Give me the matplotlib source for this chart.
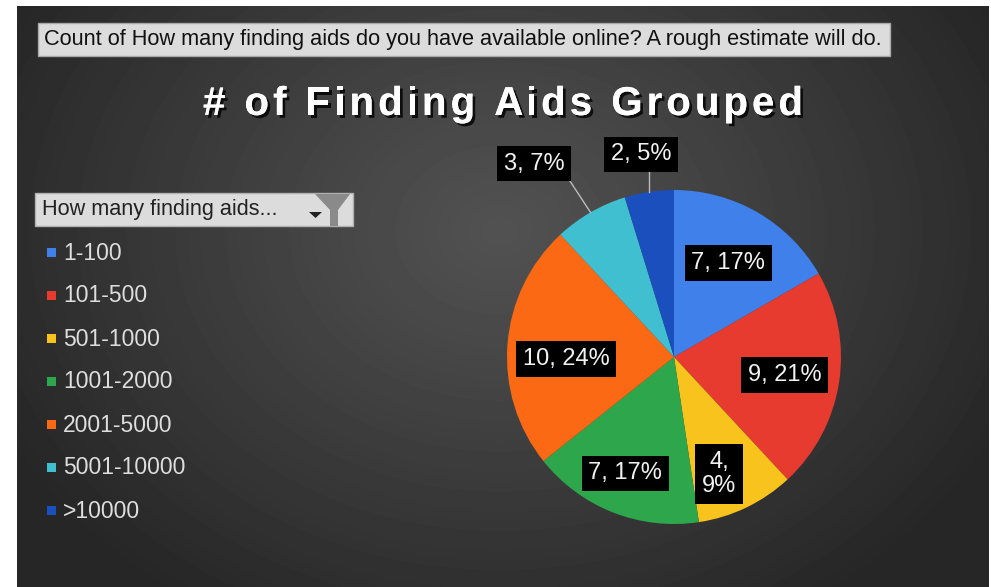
import numpy as np
import matplotlib
matplotlib.use("Agg")
import matplotlib.pyplot as plt
from matplotlib.patches import Rectangle, Polygon
import matplotlib.patheffects as pe

# ---------------- data ----------------
categories = ["1-100", "101-500", "501-1000", "1001-2000", "2001-5000", "5001-10000", ">10000"]
counts = [7, 9, 4, 7, 10, 3, 2]
pct_labels = [17, 21, 9, 17, 24, 7, 5]
colors = ["#3f80ea", "#e63b2e", "#f7c31c", "#2ea64b", "#fb6914", "#40bfd0", "#1c4fbe"]
title = "# of Finding Aids Grouped"
header = "Count of How many finding aids do you have available online? A rough estimate will do."
legend_title = "How many finding aids..."

# label placement per slice: fraction of radius and angular nudge (degrees)
label_dist = [0.65, 0.67, 0.75, 0.755, 0.645, 1.43, 1.23]
label_shift = [0, -0.7, -4.7, -1.3, 5.3, 5.9, 0.7]

W, H = 991, 587
fig = plt.figure(figsize=(W / 100, H / 100), dpi=100)
fig.patch.set_facecolor("white")
bg = fig.add_axes([0, 0, 1, 1])
bg.axis("off")

# dark radial gradient background
x0, x1, y0, y1 = 17, 989, 6, 587
yy, xx = np.mgrid[y0:y1, x0:x1]
d = np.sqrt(((xx - 500) / 560.0) ** 2 + ((yy - 230) / 450.0) ** 2)
v = 0.32 - 0.17 * np.clip(d, 0, 1) ** 1.1
bg.imshow(v, cmap="gray", vmin=0, vmax=1, extent=(x0, x1, y1, y0),
          aspect="auto", interpolation="bilinear", zorder=0)
bg.set_xlim(0, W)
bg.set_ylim(H, 0)

renderer = fig.canvas.get_renderer()


def fit_size(s, target_w, **kw):
    t = bg.text(0, 0, s, fontsize=10, **kw)
    w = t.get_window_extent(renderer).width
    t.remove()
    return 10 * target_w / w


# header box
bg.add_patch(Rectangle((38, 23), 852, 33, facecolor="#dcdcdc", edgecolor="#a8a8a8", lw=1, zorder=2))
hs = fit_size(header, 843, family="Liberation Sans")
bg.text(44, 40, header, fontsize=hs, family="Liberation Sans", color="#111111",
        va="center", ha="left", zorder=3)

# title with letter spacing and shadow
tprops = dict(fontsize=29, family="Liberation Sans", fontweight="bold", color="white")


def text_w(s):
    t = bg.text(0, 0, s + "|", **tprops)
    w = t.get_window_extent(renderer).width
    t.remove()
    t = bg.text(0, 0, "|", **tprops)
    w0 = t.get_window_extent(renderer).width
    t.remove()
    return w - w0


total_plain = text_w(title)
target = 600
spacing = (target - total_plain) / (len(title) - 1)
xs = 203
for i, ch in enumerate(title):
    if ch == " ":
        continue
    xpos = xs + text_w(title[:i]) + i * spacing
    bg.text(xpos, 104, ch, ha="left", va="center", zorder=4,
            path_effects=[pe.withSimplePatchShadow(offset=(2, -2), shadow_rgbFace="black", alpha=0.8),
                          pe.Normal()], **tprops)

# legend header
bg.add_patch(Rectangle((35, 193), 318, 33, facecolor="#dcdcdc", edgecolor="#b0b0b0", lw=1, zorder=2))
ls = fit_size(legend_title, 236, family="Liberation Sans")
bg.text(42, 210, legend_title, fontsize=ls, family="Liberation Sans", color="#222222",
        va="center", ha="left", zorder=3)
# filter icon
bg.add_patch(Polygon([(315, 194), (350, 194), (338, 210), (338, 226), (330, 226), (330, 210)],
                     closed=True, facecolor="#8a8a8a", edgecolor="none", zorder=3))
bg.add_patch(Polygon([(309, 212), (322, 212), (315.5, 218)], closed=True,
                     facecolor="#222222", edgecolor="none", zorder=4))

# legend entries
for i, (cat, col) in enumerate(zip(categories, colors)):
    y = 252 + i * 43
    bg.add_patch(Rectangle((47, y - 4.5), 9, 9, facecolor=col, edgecolor="none", zorder=3))
    bg.text(63, y + 1, cat, fontsize=16.5, family="Liberation Sans", color="#dedede",
            va="center", ha="left", zorder=3)

# pie
cx, cy, r = 674, 357, 167
ax = fig.add_axes([(cx - r) / W, 1 - (cy + r) / H, 2 * r / W, 2 * r / H])
ax.axis("off")
ax.patch.set_alpha(0)
wedges, _ = ax.pie(counts, colors=colors, startangle=90, counterclock=False, radius=1,
                   wedgeprops=dict(linewidth=0))
ax.set_xlim(-1, 1)
ax.set_ylim(-1, 1)

outer = []
for i, w in enumerate(wedges):
    mid = np.deg2rad((w.theta1 + w.theta2) / 2)
    ang = mid + np.deg2rad(label_shift[i])
    dist = label_dist[i]
    tx, ty = dist * np.cos(ang), dist * np.sin(ang)
    if counts[i] == 4:
        txt = f"{counts[i]},\n{pct_labels[i]}%"
    else:
        txt = f"{counts[i]}, {pct_labels[i]}%"
    t = ax.text(tx, ty, txt, ha="center", va="center", fontsize=17, family="Liberation Sans",
                color="#f2f2f2", linespacing=1.15, clip_on=False, zorder=5,
                bbox=dict(boxstyle="square,pad=0.28", facecolor="black", edgecolor="none"))
    if dist > 1:
        outer.append((t, mid))

fig.canvas.draw()
inv = ax.transData.inverted()
for t, mid in outer:
    bb = t.get_bbox_patch().get_window_extent(renderer)
    (bx0, by0), (bx1, by1) = inv.transform([(bb.x0, bb.y0), (bb.x1, bb.y1)])
    ex, ey = np.cos(mid), np.sin(mid)
    lx = min(max(ex, bx0 + 0.005), bx1 - 0.005)
    ax.plot([ex, lx], [ey, by0], color="#bbbbbb", lw=1, clip_on=False, zorder=4)

fig.savefig("out.png", dpi=100, facecolor="white")
